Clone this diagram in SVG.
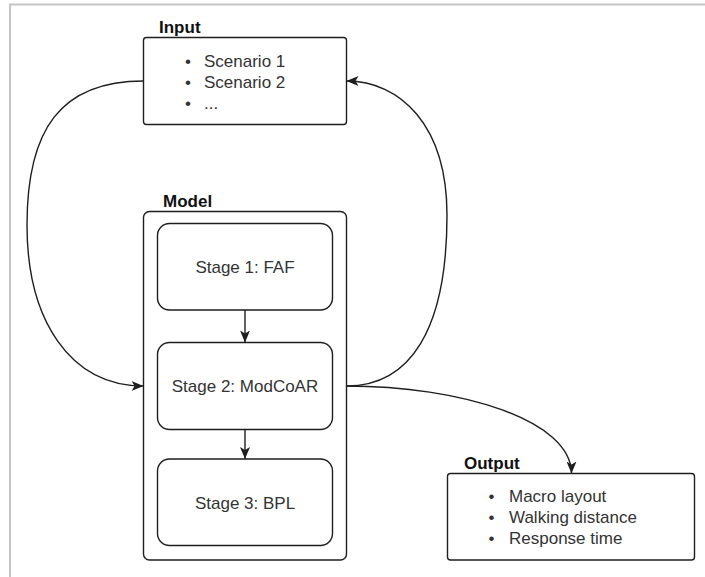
<svg xmlns="http://www.w3.org/2000/svg" width="705" height="577" viewBox="0 0 705 577">
  <style>
    .box { fill: #ffffff; stroke: #1e1e1e; stroke-width: 1.4; }
    .edge { fill: none; stroke: #1e1e1e; stroke-width: 1.4; }
    .title { font-family: "Liberation Sans", Arial, sans-serif; font-size: 17px; font-weight: bold; fill: #111111; }
    .body { font-family: "Liberation Sans", Arial, sans-serif; font-size: 17px; fill: #333333; }
    .center { text-anchor: middle; }
  </style>
  <defs>
    <marker id="arrow" viewBox="0 0 12 10" refX="12" refY="5" markerWidth="12" markerHeight="10" markerUnits="userSpaceOnUse" orient="auto">
      <path d="M0,0 L12,5 L0,10 L3,5 z" fill="#1e1e1e"/>
    </marker>
  </defs>

  <rect width="705" height="577" fill="#ffffff"/>
  <!-- page frame -->
  <path d="M10,577 L10,4.5 L705,4.5" fill="none" stroke="#c4c4c4" stroke-width="2"/>

  <g id="input">
    <text class="title" x="159" y="32.5">Input</text>
    <rect class="box" x="143.5" y="37.5" width="203" height="87" rx="3"/>
    <text class="body center" x="188" y="66.5">•</text>
    <text class="body" x="204" y="66.5">Scenario 1</text>
    <text class="body center" x="188" y="87.5">•</text>
    <text class="body" x="204" y="87.5">Scenario 2</text>
    <text class="body center" x="188" y="108.5">•</text>
    <text class="body" x="204" y="108.5">...</text>
  </g>

  <g id="model">
    <text class="title" x="163" y="206.5">Model</text>
    <rect class="box" x="143.5" y="211.5" width="203" height="348.5" rx="6"/>
  </g>

  <g id="stage1">
    <rect class="box" x="157.5" y="223.5" width="175" height="86.5" rx="12"/>
    <text class="body center" x="245" y="272.5">Stage 1: FAF</text>
  </g>

  <g id="stage2">
    <rect class="box" x="157.5" y="342.5" width="175" height="87" rx="12"/>
    <text class="body center" x="245" y="391.5">Stage 2: ModCoAR</text>
  </g>

  <g id="stage3">
    <rect class="box" x="157.5" y="459" width="175" height="86.5" rx="12"/>
    <text class="body center" x="245" y="508.5">Stage 3: BPL</text>
  </g>

  <g id="output">
    <text class="title" x="464" y="468.5">Output</text>
    <rect class="box" x="447.5" y="473.5" width="247" height="86.5" rx="3"/>
    <text class="body center" x="491.5" y="501.5">•</text>
    <text class="body" x="509" y="501.5">Macro layout</text>
    <text class="body center" x="491.5" y="522.5">•</text>
    <text class="body" x="509" y="522.5">Walking distance</text>
    <text class="body center" x="491.5" y="543.5">•</text>
    <text class="body" x="509" y="543.5">Response time</text>
  </g>

  <g id="connectors">
    <path class="edge" marker-end="url(#arrow)" d="M245,310 L245,342.5"/>
    <path class="edge" marker-end="url(#arrow)" d="M245,429.5 L245,459"/>
    <!-- input to model -->
    <path class="edge" marker-end="url(#arrow)" d="M143.5,81 C60,81 27,130 27,225 C27,320 70,386 143.5,386"/>
    <!-- model back to input -->
    <path class="edge" marker-end="url(#arrow)" d="M346.5,386 C410,386 447,330 447,215 C447,125 400,81 346.5,81"/>
    <!-- model to output -->
    <path class="edge" marker-end="url(#arrow)" d="M346.5,386 C460,386 571.5,420 571.5,473.5"/>
  </g>
</svg>
